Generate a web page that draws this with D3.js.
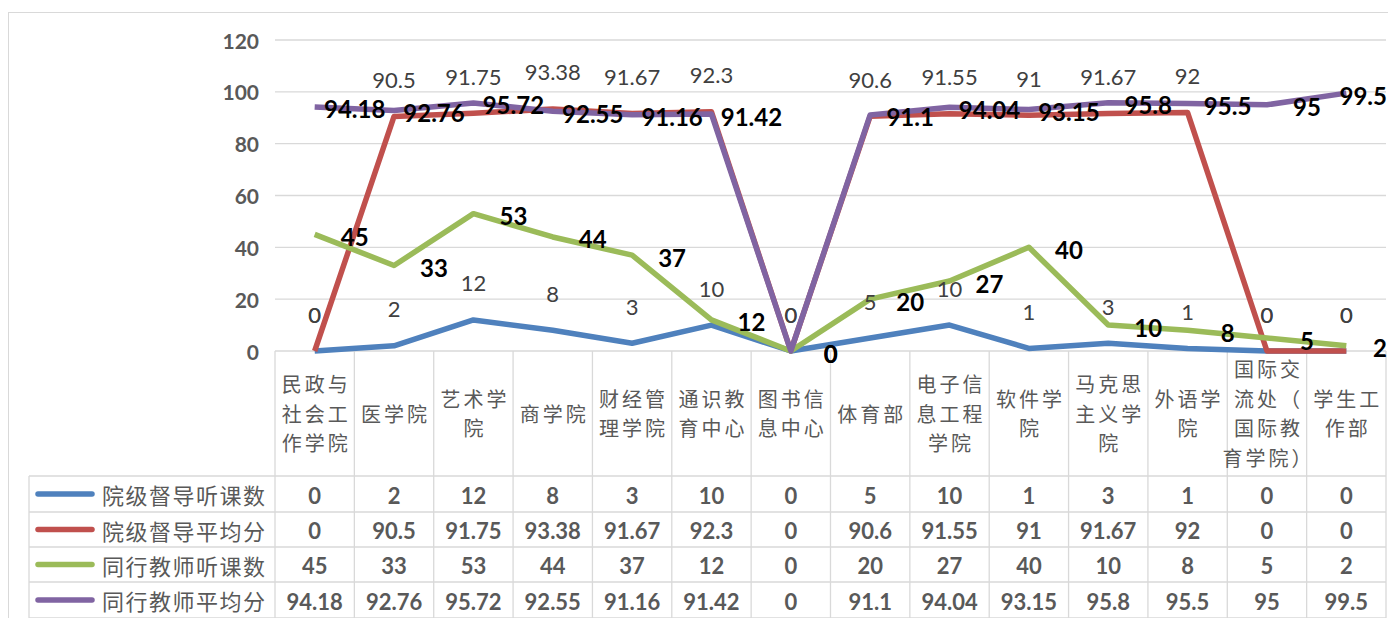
<!DOCTYPE html>
<html>
<head>
<meta charset="utf-8">
<script src="https://cdn.jsdelivr.net/npm/d3@7"></script>
<style>
  body { margin: 0; background: #fff; }
  svg { display: block; }
</style>
</head>
<body>
<svg></svg>
<script>
const categories = ["民政与社会工作学院", "医学院", "艺术学院", "商学院", "财经管理学院", "通识教育中心", "图书信息中心",
    "体育部", "电子信息工程学院", "软件学院", "马克思主义学院", "外语学院", "国际交流处（国际教育学院）", "学生工作部"];
const seriesNames = ["院级督导听课数", "院级督导平均分", "同行教师听课数", "同行教师平均分"];
const supervisorCount = [0, 2, 12, 8, 3, 10, 0, 5, 10, 1, 3, 1, 0, 0];
const supervisorAvg = [0, 90.5, 91.75, 93.38, 91.67, 92.3, 0, 90.6, 91.55, 91, 91.67, 92, 0, 0];
const peerCount = [45, 33, 53, 44, 37, 12, 0, 20, 27, 40, 10, 8, 5, 2];
const peerAvg = [94.18, 92.76, 95.72, 92.55, 91.16, 91.42, 0, 91.1, 94.04, 93.15, 95.8, 95.5, 95, 99.5];
const yTicks = [0, 20, 40, 60, 80, 100, 120];

window.onload = function() {
    const svg = d3.select("svg").attr("width", 1388).attr("height", 618);

    const colors = ["#4F81BD", "#C0504D", "#9BBB59", "#8064A2"];
    const allSeries = [supervisorCount, supervisorAvg, peerCount, peerAvg];
    // label style per series: gray ones above the point, bold black ones to the right
    const labelStyle = ["above", "above", "right", "right"];
    const numFont = "Lato, 'Noto Sans', sans-serif";

    const left = 275, right = 1386, top = 40, base = 351;
    const rowTops = [476, 512, 547, 582, 618];

    // chart frame
    svg.append("rect")
        .attr("x", 8.5).attr("y", 12.5)
        .attr("width", 1388).attr("height", 620)
        .attr("fill", "none").attr("stroke", "#d9d9d9");

    const x = d3.scaleBand().domain(categories).range([left, right]);
    const y = d3.scaleLinear().domain([0, 120]).range([base, top]);
    const cx = function(c) { return x(c) + x.bandwidth() / 2; };

    // gridlines
    svg.selectAll(".grid")
        .data(yTicks.filter(t => t > 0))
        .join("line")
        .attr("x1", left).attr("x2", right)
        .attr("y1", d => y(d)).attr("y2", d => y(d))
        .attr("stroke", "#d9d9d9").attr("stroke-width", 1.3);

    // y axis labels
    svg.selectAll(".ytick")
        .data(yTicks)
        .join("text")
        .attr("x", 259)
        .attr("y", d => y(d))
        .attr("text-anchor", "end")
        .attr("dominant-baseline", "central")
        .attr("font-family", numFont)
        .attr("font-weight", "bold")
        .attr("font-size", 21)
        .attr("fill", "#595959")
        .text(d => d);

    // data table lines
    const grid = svg.append("g").attr("stroke", "#d9d9d9").attr("stroke-width", 1.3);
    grid.append("line").attr("x1", left).attr("x2", right).attr("y1", base).attr("y2", base);
    const bounds = categories.map(c => x(c)).concat([right]);
    grid.selectAll(".vline")
        .data(bounds)
        .join("line")
        .attr("x1", d => d).attr("x2", d => d)
        .attr("y1", base).attr("y2", 618);
    grid.selectAll(".hline")
        .data(rowTops)
        .join("line")
        .attr("x1", 29).attr("x2", right)
        .attr("y1", d => d).attr("y2", d => d);
    grid.append("line").attr("x1", 29).attr("x2", 29).attr("y1", rowTops[0]).attr("y2", 618);

    // category labels, wrapped 3 chars per line, closing bracket kept on previous line
    function wrap(s) {
        const chars = Array.from(s);
        const lines = [];
        let cur = "";
        chars.forEach(function(ch) {
            if (cur.length === 3) {
                if (ch === "）") { cur += ch; return; }
                lines.push(cur);
                cur = "";
            }
            cur += ch;
        });
        if (cur) lines.push(cur);
        return lines;
    }
    categories.forEach(function(c) {
        const lines = wrap(c);
        svg.selectAll(null)
            .data(lines)
            .join("text")
            .attr("x", cx(c) + 1.5)
            .attr("y", (d, i) => 413 + (i - (lines.length - 1) / 2) * 29.5)
            .attr("text-anchor", "middle")
            .attr("dominant-baseline", "central")
            .attr("font-family", "'Noto Sans CJK SC', sans-serif")
            .attr("font-size", 20)
            .attr("letter-spacing", 3)
            .attr("fill", "#595959")
            .text(d => d);
    });

    // legend + values in table
    seriesNames.forEach(function(name, si) {
        const rowMid = (rowTops[si] + rowTops[si + 1]) / 2;
        svg.append("line")
            .attr("x1", 38).attr("x2", 92)
            .attr("y1", rowMid).attr("y2", rowMid)
            .attr("stroke", colors[si]).attr("stroke-width", 5.5)
            .attr("stroke-linecap", "round");
        svg.append("text")
            .attr("x", 102).attr("y", rowMid)
            .attr("dominant-baseline", "central")
            .attr("font-family", "'Noto Sans CJK SC', sans-serif")
            .attr("font-size", 22)
            .attr("letter-spacing", 1.5)
            .attr("fill", "#595959")
            .text(name);
        svg.selectAll(".val" + si)
            .data(allSeries[si])
            .join("text")
            .attr("x", (d, i) => cx(categories[i]))
            .attr("y", rowMid + 1)
            .attr("text-anchor", "middle")
            .attr("dominant-baseline", "central")
            .attr("font-family", numFont)
            .attr("font-weight", "bold")
            .attr("font-size", 22)
            .attr("fill", "#595959")
            .text(d => d);
    });

    // lines
    const line = d3.line()
        .x((d, i) => cx(categories[i]))
        .y(d => y(d));
    allSeries.forEach(function(values, si) {
        svg.append("path")
            .datum(values)
            .attr("d", line)
            .attr("fill", "none")
            .attr("stroke", colors[si])
            .attr("stroke-width", 5.5)
            .attr("stroke-linejoin", "round");
    });

    // point labels
    allSeries.forEach(function(values, si) {
        const above = labelStyle[si] === "above";
        svg.selectAll(".lab" + si)
            .data(values)
            .join("text")
            .attr("x", (d, i) => above ? cx(categories[i]) : cx(categories[i]) + 40)
            .attr("y", d => above ? y(d) - 37 : y(d) + 2)
            .attr("text-anchor", "middle")
            .attr("dominant-baseline", "central")
            .attr("font-family", numFont)
            .attr("font-weight", above ? "normal" : "bold")
            .attr("font-size", above ? 22 : 24)
            .attr("fill", above ? "#404040" : "#000")
            .text(d => d)
            .each(function() {
                // keep labels inside the chart on the right edge
                const w = this.getComputedTextLength();
                const xv = +d3.select(this).attr("x");
                if (xv + w / 2 > 1387) {
                    d3.select(this).attr("x", 1387 - w / 2);
                }
            });
    });
};
</script>
</body>
</html>
